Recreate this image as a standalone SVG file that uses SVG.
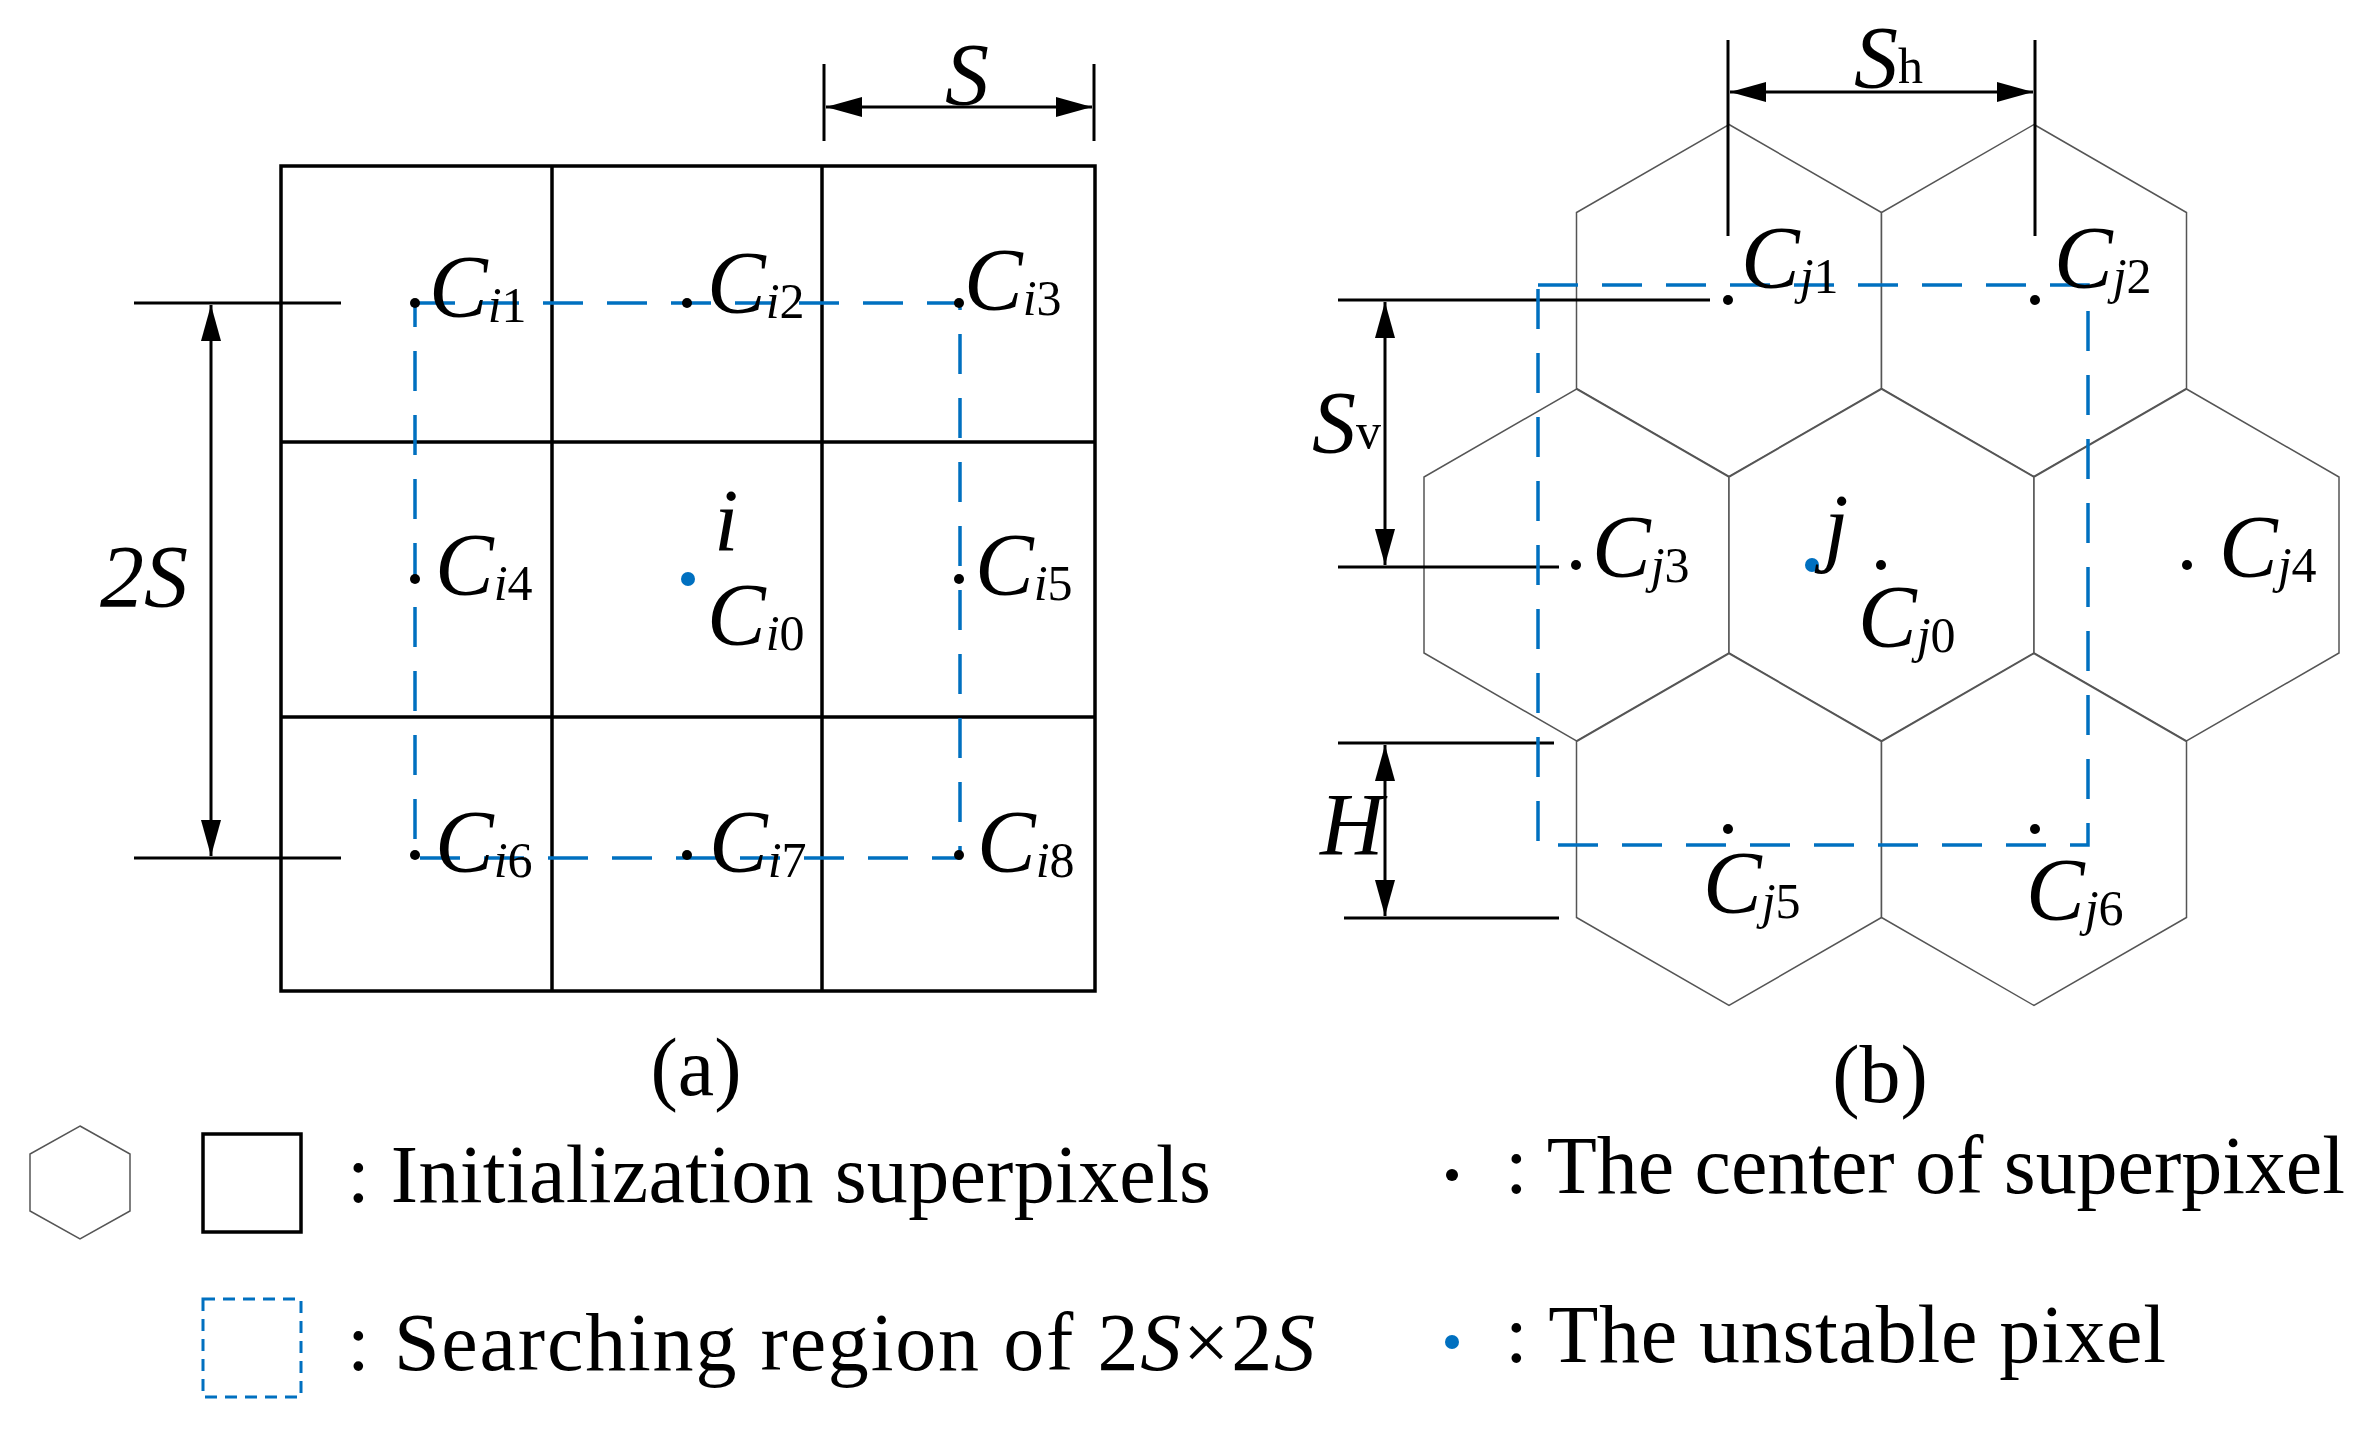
<svg xmlns="http://www.w3.org/2000/svg" width="2371" height="1444" viewBox="0 0 2371 1444">
<style>
text{font-family:"Liberation Serif","Times New Roman",serif;fill:#000}
.c{font-size:88px;font-style:italic}
.s{font-size:50px;font-style:normal}
.it{font-style:italic}
.g{stroke:#000;stroke-width:3.5;fill:none}
.d{stroke:#000;stroke-width:3;fill:none}
.hx{stroke:#555;stroke-width:1.5;fill:#fff}
.bl{stroke:#0070C0;stroke-width:3.5;fill:none;stroke-dasharray:40 24}
.lg{font-size:82px}
</style>
<defs>
<marker id="ar" viewBox="0 0 36 20" refX="36" refY="10" markerWidth="36" markerHeight="20" markerUnits="userSpaceOnUse" orient="auto-start-reverse"><path d="M0,0L36,10L0,20z" fill="#000"/></marker>
</defs>
<g id="panel-a">
<rect x="281" y="166" width="814" height="825" class="g"/>
<line x1="552" y1="166" x2="552" y2="991" class="g"/>
<line x1="822" y1="166" x2="822" y2="991" class="g"/>
<line x1="281" y1="442" x2="1095" y2="442" class="g"/>
<line x1="281" y1="717" x2="1095" y2="717" class="g"/>
</g>
<g id="connectors">
<line x1="824" y1="64" x2="824" y2="141" class="d"/>
<line x1="1094" y1="64" x2="1094" y2="141" class="d"/>
<line x1="826" y1="107" x2="1092" y2="107" class="d" marker-start="url(#ar)" marker-end="url(#ar)"/>
<line x1="134" y1="303" x2="341" y2="303" class="d"/>
<line x1="134" y1="858" x2="341" y2="858" class="d"/>
<line x1="211" y1="305" x2="211" y2="856" class="d" marker-start="url(#ar)" marker-end="url(#ar)"/>
<rect x="415" y="303" width="545" height="555" class="bl"/>
</g>
<g id="hexes">
<polygon class="hx" points="1729,124.5 1881.5,212.5 1881.5,388.5 1729,476.5 1576.5,388.5 1576.5,212.5"/>
<polygon class="hx" points="2034,124.5 2186.5,212.5 2186.5,388.5 2034,476.5 1881.5,388.5 1881.5,212.5"/>
<polygon class="hx" points="1576.5,389 1729,477 1729,653 1576.5,741 1424,653 1424,477"/>
<polygon class="hx" points="1881.5,389 2034,477 2034,653 1881.5,741 1729,653 1729,477"/>
<polygon class="hx" points="2186.5,389 2339,477 2339,653 2186.5,741 2034,653 2034,477"/>
<polygon class="hx" points="1729,653.5 1881.5,741.5 1881.5,917.5 1729,1005.5 1576.5,917.5 1576.5,741.5"/>
<polygon class="hx" points="2034,653.5 2186.5,741.5 2186.5,917.5 2034,1005.5 1881.5,917.5 1881.5,741.5"/>
</g>
<g id="connectors-b">
<line x1="1728" y1="40" x2="1728" y2="236" class="d"/>
<line x1="2035" y1="40" x2="2035" y2="236" class="d"/>
<line x1="1730" y1="92" x2="2033" y2="92" class="d" marker-start="url(#ar)" marker-end="url(#ar)"/>
<line x1="1338" y1="300" x2="1710" y2="300" class="d"/>
<line x1="1338" y1="567" x2="1559" y2="567" class="d"/>
<line x1="1385" y1="302" x2="1385" y2="565" class="d" marker-start="url(#ar)" marker-end="url(#ar)"/>
<line x1="1338" y1="743" x2="1554" y2="743" class="d"/>
<line x1="1344" y1="918" x2="1559" y2="918" class="d"/>
<line x1="1385" y1="745" x2="1385" y2="916" class="d" marker-start="url(#ar)" marker-end="url(#ar)"/>
<rect x="1538" y="285" width="550" height="560" class="bl"/>
</g>
<g id="dots">
<circle cx="415" cy="303" r="5"/><circle cx="687" cy="303" r="5"/><circle cx="959" cy="303" r="5"/>
<circle cx="415" cy="579" r="5"/><circle cx="959" cy="579" r="5"/>
<circle cx="415" cy="855" r="5"/><circle cx="687" cy="855" r="5"/><circle cx="959" cy="855" r="5"/>
<circle cx="688" cy="579" r="7" fill="#0070C0"/>
<circle cx="1728" cy="300" r="5"/><circle cx="2035" cy="300" r="5"/>
<circle cx="1576" cy="565" r="5"/><circle cx="1881" cy="565" r="5"/><circle cx="2187" cy="565" r="5"/>
<circle cx="1728" cy="829" r="5"/><circle cx="2035" cy="829" r="5"/>
<circle cx="1812" cy="565" r="7" fill="#0070C0"/>
</g>
<g id="labels">
<text x="945" y="104" class="c">S</text>
<text x="100" y="606" class="c">2S</text>
<text x="429" y="316" class="c">C<tspan class="s" dy="6"><tspan class="it">i</tspan>1</tspan></text>
<text x="707" y="312" class="c">C<tspan class="s" dy="6"><tspan class="it">i</tspan>2</tspan></text>
<text x="964" y="309" class="c">C<tspan class="s" dy="6"><tspan class="it">i</tspan>3</tspan></text>
<text x="435" y="594" class="c">C<tspan class="s" dy="6"><tspan class="it">i</tspan>4</tspan></text>
<text x="714" y="550" class="c">i</text>
<text x="707" y="644" class="c">C<tspan class="s" dy="6"><tspan class="it">i</tspan>0</tspan></text>
<text x="975" y="594" class="c">C<tspan class="s" dy="6"><tspan class="it">i</tspan>5</tspan></text>
<text x="435" y="871" class="c">C<tspan class="s" dy="6"><tspan class="it">i</tspan>6</tspan></text>
<text x="709" y="871" class="c">C<tspan class="s" dy="6"><tspan class="it">i</tspan>7</tspan></text>
<text x="977" y="871" class="c">C<tspan class="s" dy="6"><tspan class="it">i</tspan>8</tspan></text>
<text x="1854" y="87" class="c">S<tspan class="s" dy="-4">h</tspan></text>
<text x="1312" y="452" class="c">S<tspan class="s" dy="-4">v</tspan></text>
<text x="1320" y="854" class="c">H</text>
<text x="1741" y="287" class="c">C<tspan class="s" dy="6"><tspan class="it">j</tspan>1</tspan></text>
<text x="2054" y="287" class="c">C<tspan class="s" dy="6"><tspan class="it">j</tspan>2</tspan></text>
<text x="1592" y="576" class="c">C<tspan class="s" dy="6"><tspan class="it">j</tspan>3</tspan></text>
<text x="1824" y="555" class="c">j</text>
<text x="1858" y="646" class="c">C<tspan class="s" dy="6"><tspan class="it">j</tspan>0</tspan></text>
<text x="2219" y="576" class="c">C<tspan class="s" dy="6"><tspan class="it">j</tspan>4</tspan></text>
<text x="1703" y="912" class="c">C<tspan class="s" dy="6"><tspan class="it">j</tspan>5</tspan></text>
<text x="2026" y="919" class="c">C<tspan class="s" dy="6"><tspan class="it">j</tspan>6</tspan></text>
<text x="696" y="1095" class="lg" text-anchor="middle">(a)</text>
<text x="1880" y="1102" class="lg" text-anchor="middle">(b)</text>
</g>
<g id="legend">
<polygon class="hx" points="80,1126 130,1154 130,1211 80,1239 30,1211 30,1154"/>
<rect x="203" y="1134" width="98" height="98" class="g"/>
<rect x="203" y="1299" width="98" height="98" fill="none" stroke="#0070C0" stroke-width="3" stroke-dasharray="12 8"/>
<circle cx="1452" cy="1175" r="6"/>
<circle cx="1452" cy="1342" r="7" fill="#0070C0"/>
<text x="347" y="1202" class="lg" textLength="864">: Initialization superpixels</text>
<text x="347" y="1370" class="lg" textLength="968">: Searching region of 2<tspan class="it">S</tspan>×2<tspan class="it">S</tspan></text>
<text x="1505" y="1193" class="lg" textLength="840">: The center of superpixel</text>
<text x="1505" y="1362" class="lg" textLength="661">: The unstable pixel</text>
</g>
</svg>
